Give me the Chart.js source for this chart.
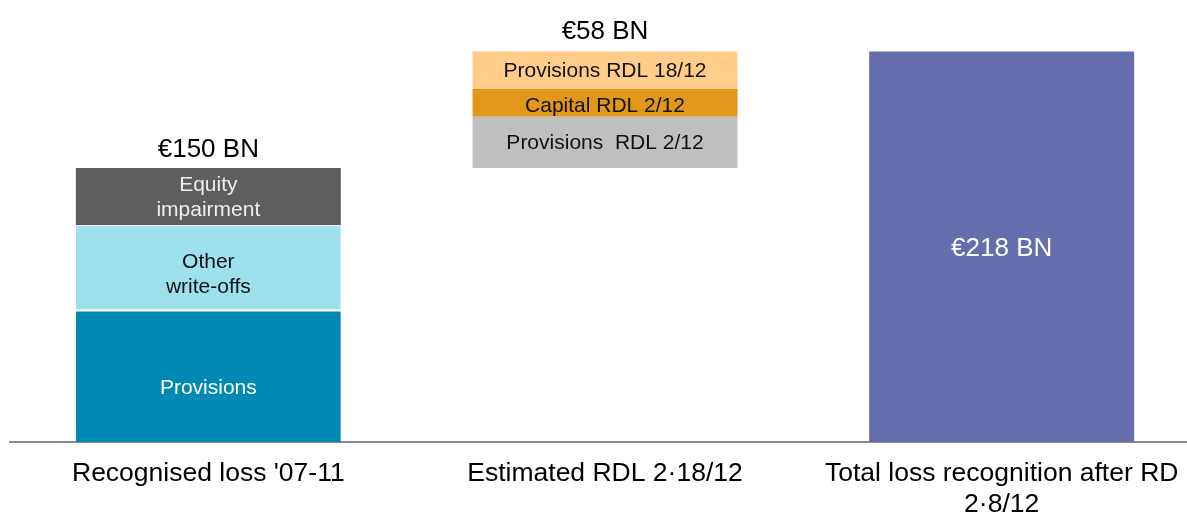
<!DOCTYPE html>
<html>
<head>
<meta charset="utf-8">
<script src="https://cdn.jsdelivr.net/npm/chart.js@4/dist/chart.umd.min.js"></script>
<style>
  html, body { margin: 0; padding: 0; background: #fff; overflow: hidden; }
  #wrap { position: relative; width: 1200px; height: 516px; }
</style>
</head>
<body>
<div id="wrap"><canvas id="lossChart"></canvas></div>
<script>
/* Loss recognition waterfall: recognised '07-11 + estimated RDL = total */

const categories = ["Recognised loss '07-11", "Estimated RDL 2·18/12", ["Total loss recognition after RD", "2·8/12"]];

// EUR bn, bottom to top
const recognisedValues = [74, 47, 32];
const recognisedLabels = ["Provisions", ["Other", "write-offs"], ["Equity", "impairment"]];
const recognisedColors = ["#0089B4", "#9DE0EE", "#5E5E5E"];
const recognisedText = ["#ffffff", "#111111", "#eeeeee"];

const estimatedValues = [28.5, 15.5, 21];
const estimatedLabels = ["Provisions  RDL 2/12", "Capital RDL 2/12", "Provisions RDL 18/12"];
const estimatedColors = ["#BFBFBF", "#E2961A", "#FFCC8A"];

const totalValue = 218;
const totalColor = "#646EAD";

const headLabels = ["€150 BN", "€58 BN", "€218 BN"];

const FONT = "'Liberation Sans', Arial, sans-serif";

const base = recognisedValues.reduce((a, b) => a + b, 0);

function onlyAt(idx, v) {
  return categories.map((_, i) => (i === idx ? v : null));
}

// small vertical nudges of the in-bar texts (px), as placed in the original slide
const recDy = [12, 7, 1];
const estDy = [1, 3, 1];

const datasets = [
  { label: "base", data: onlyAt(1, base), backgroundColor: "rgba(0,0,0,0)", segLabel: null },
];
recognisedValues.forEach((v, i) => {
  datasets.push({
    label: "rec" + i,
    data: onlyAt(0, v),
    backgroundColor: recognisedColors[i],
    borderColor: "#ffffff",
    borderWidth: { top: i < 2 ? 2 - i : 0, left: 0, right: 0, bottom: 0 },
    borderSkipped: false,
    segLabel: recognisedLabels[i],
    segColor: recognisedText[i],
    segDy: recDy[i],
  });
});
estimatedValues.forEach((v, i) => {
  datasets.push({
    label: "est" + i,
    data: onlyAt(1, v),
    backgroundColor: estimatedColors[i],
    segLabel: estimatedLabels[i],
    segColor: "#111111",
    segDy: estDy[i],
  });
});
datasets.push({
  label: "total",
  data: onlyAt(2, totalValue),
  backgroundColor: totalColor,
  segLabel: headLabels[2],
  segColor: "#ffffff",
  segSize: 26,
  segDy: 2,
});

const labelPlugin = {
  id: "segLabels",
  afterDatasetsDraw(chart) {
    const ctx = chart.ctx;
    ctx.save();
    ctx.textAlign = "center";
    ctx.textBaseline = "middle";
    const tops = {};
    chart.data.datasets.forEach((ds, di) => {
      const meta = chart.getDatasetMeta(di);
      meta.data.forEach((bar, idx) => {
        if (ds.data[idx] == null) return;
        const top = Math.min(bar.y, bar.base);
        if (tops[idx] == null || top < tops[idx].y) tops[idx] = { y: top, x: bar.x };
        if (!ds.segLabel) return;
        const lines = Array.isArray(ds.segLabel) ? ds.segLabel : [ds.segLabel];
        const size = ds.segSize || 21;
        const lh = 25;
        const cy = (bar.y + bar.base) / 2 + (ds.segDy || 0);
        ctx.fillStyle = ds.segColor;
        ctx.font = size + "px " + FONT;
        lines.forEach((ln, k) => {
          ctx.fillText(ln, bar.x, cy + (k - (lines.length - 1) / 2) * lh);
        });
      });
    });
    // totals above the first two stacks
    ctx.fillStyle = "#000000";
    ctx.font = "26px " + FONT;
    [0, 1].forEach((idx) => {
      if (!tops[idx]) return;
      ctx.fillText(headLabels[idx], tops[idx].x, tops[idx].y - (idx === 0 ? 18 : 20));
    });
    ctx.restore();
  },
};

new Chart(document.getElementById("lossChart"), {
  type: "bar",
  data: { labels: categories, datasets: datasets },
  options: {
    responsive: true,
    maintainAspectRatio: false,
    animation: false,
    layout: { padding: { top: 12, left: 10, right: 0, bottom: 0 } },
    datasets: { bar: { barPercentage: 0.668, categoryPercentage: 1 } },
    plugins: { legend: { display: false }, tooltip: { enabled: false } },
    scales: {
      x: {
        stacked: true,
        grid: { display: false, drawTicks: false },
        border: { display: true, color: "#8a8a8a", width: 2 },
        ticks: {
          color: "#000000",
          padding: 16,
          maxRotation: 0,
          autoSkip: false,
          font: { family: FONT, size: 26.5, lineHeight: 1.17 },
        },
        afterFit: (scale) => { scale.height = 74; },
      },
      y: {
        stacked: true,
        display: false,
        min: 0,
        max: 240,
      },
    },
  },
  plugins: [labelPlugin],
});
</script>
</body>
</html>
